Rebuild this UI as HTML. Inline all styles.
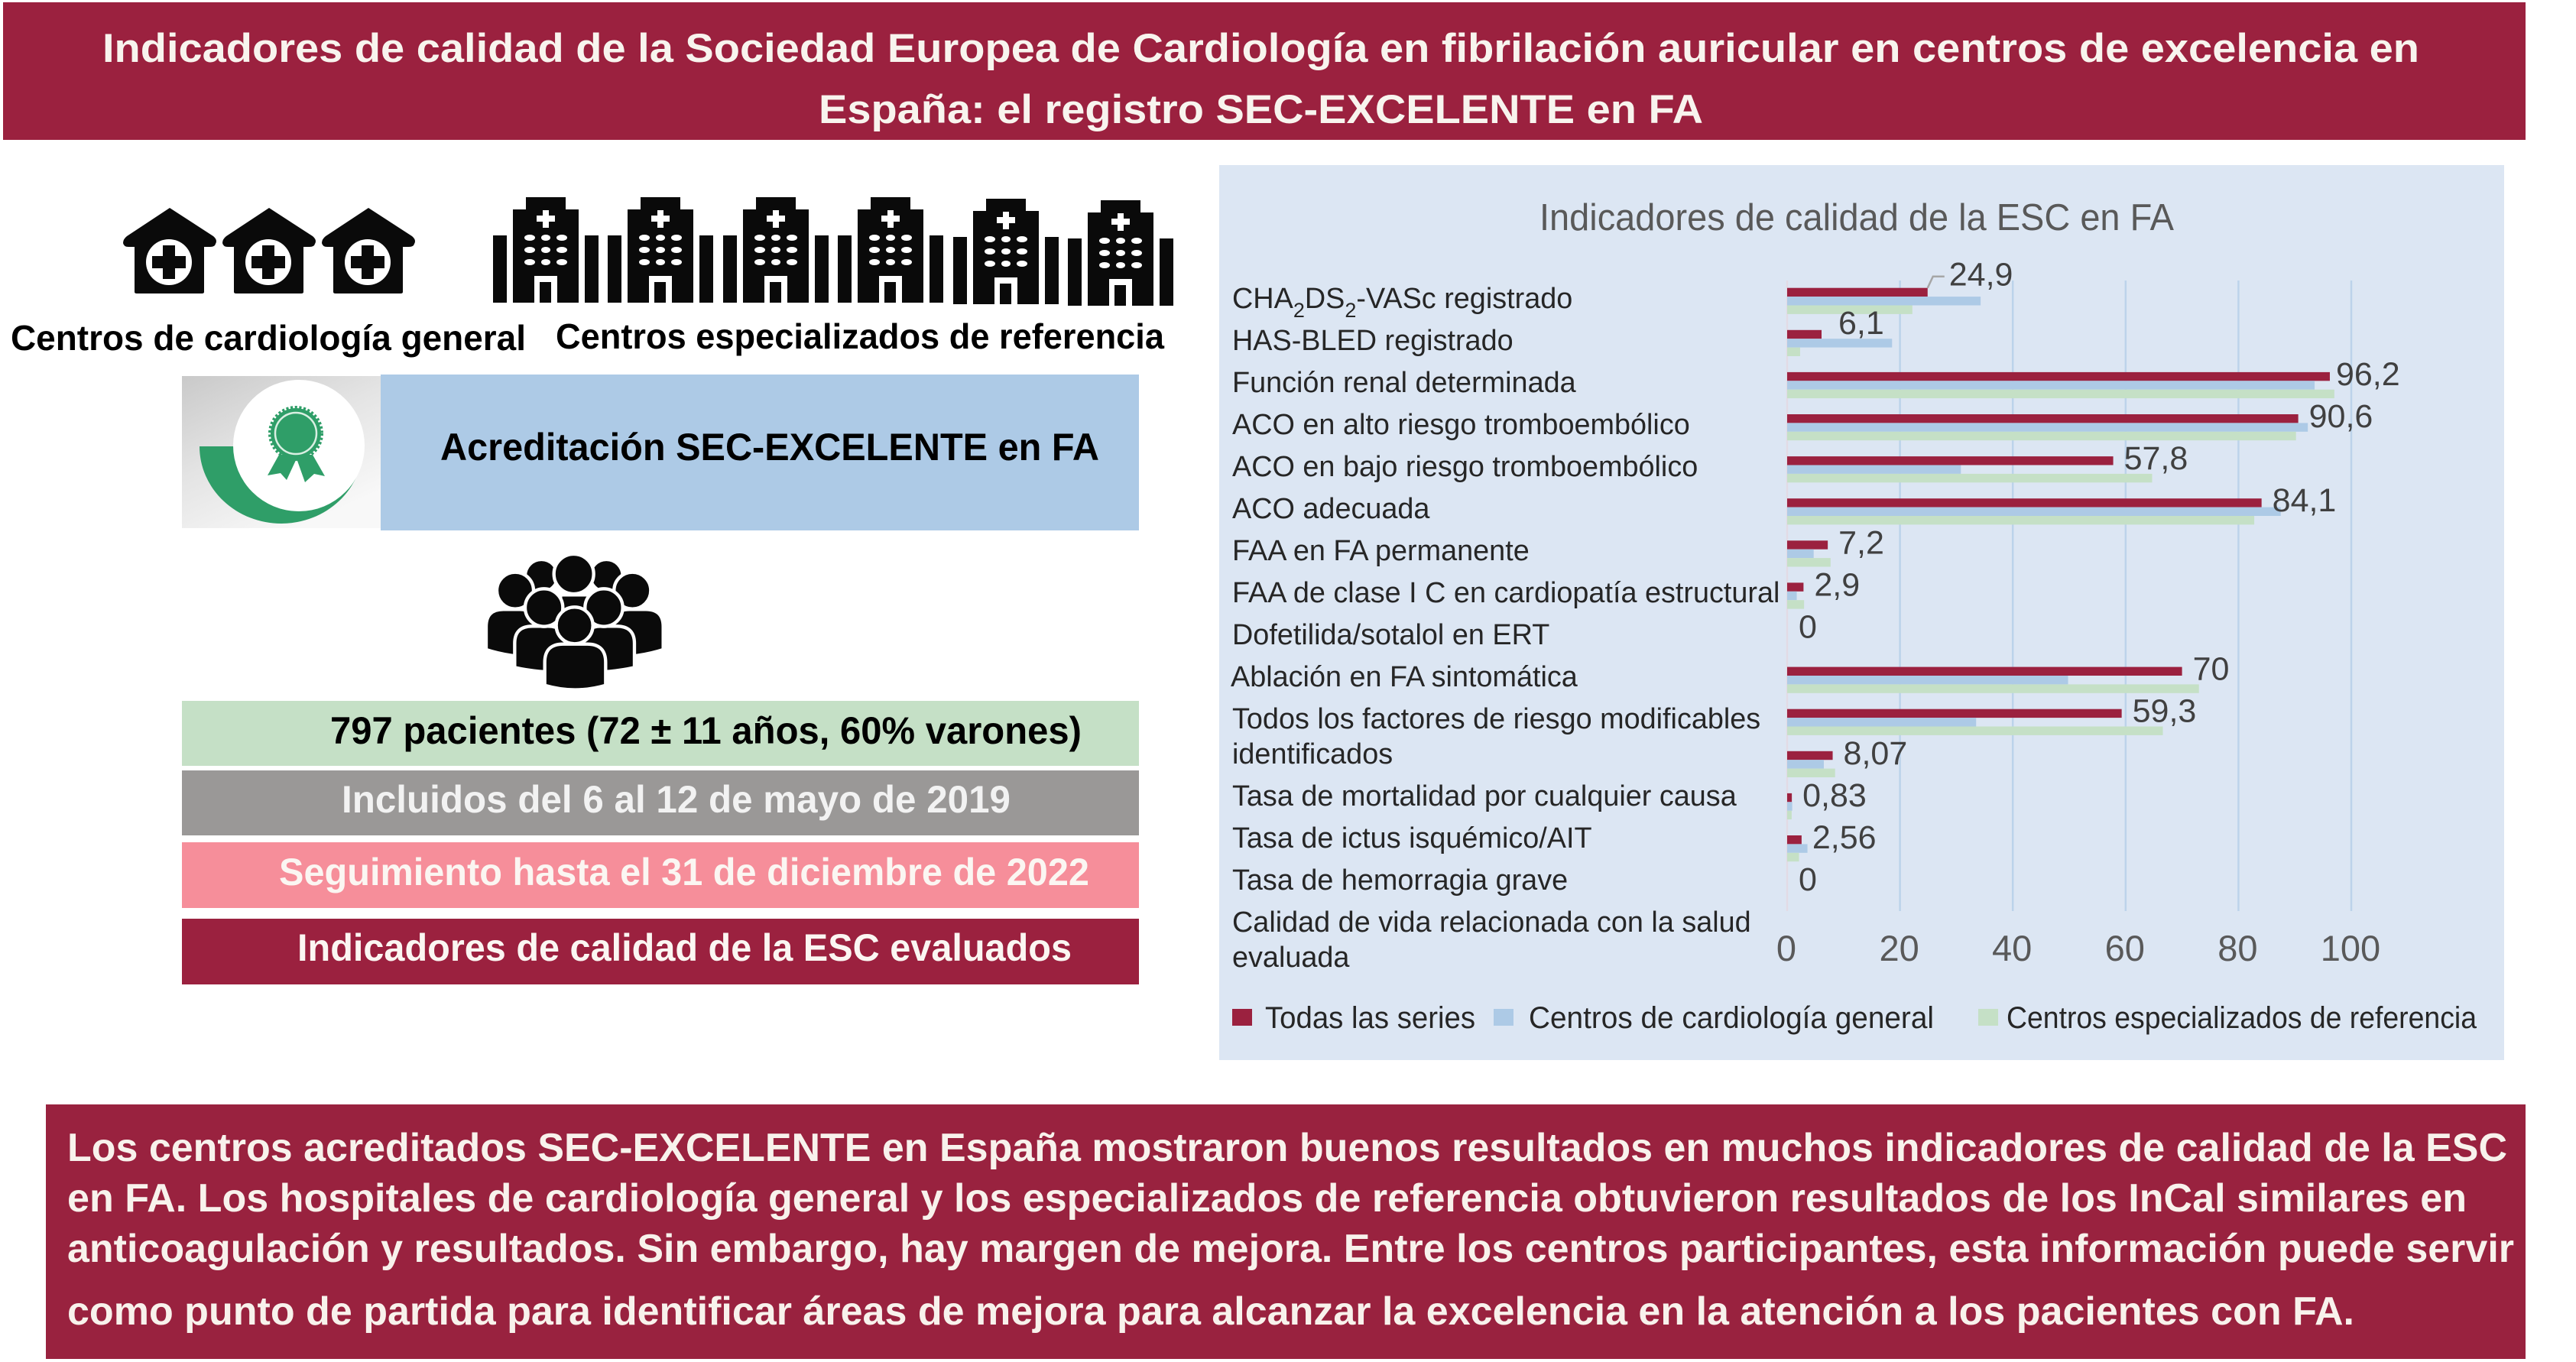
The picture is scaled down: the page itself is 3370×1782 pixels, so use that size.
<!DOCTYPE html>
<html lang="es">
<head>
<meta charset="utf-8">
<title>Indicadores de calidad SEC-EXCELENTE en FA</title>
<style>
html,body{margin:0;padding:0;background:#fff;width:3370px;height:1782px;overflow:hidden}
svg{display:block}
text{font-family:"Liberation Sans",Arial,sans-serif}
.b{font-weight:700}
</style>
</head>
<body>
<svg id="page" xmlns="http://www.w3.org/2000/svg" width="3370" height="1782" viewBox="0 0 3370 1782">
  <defs>
    <linearGradient id="badgeBg" x1="0" x2="0.6" y1="0" y2="1"><stop offset="0" stop-color="#c9c9c9"/><stop offset="0.5" stop-color="#e4e4e4"/><stop offset="1" stop-color="#f8f8f8"/></linearGradient>
    <g id="house">
      <path d="M61 0 L118 37 Q124 42 121 47 Q120 51 114 51 H106 V110 Q106 112 103 112 H18 Q15 112 15 110 V51 H7 Q1 51 0 46 Q0 41 5 37 Z" fill="#0a0a0a"/>
      <circle cx="60" cy="71" r="30" fill="#fff"/>
      <path d="M52 49 H68 V63 H82 V79 H68 V93 H52 V79 H38 V63 H52 Z" fill="#0a0a0a"/>
    </g>
    <g id="hospital">
      <rect x="0" y="50" width="18" height="88" fill="#0a0a0a"/>
      <rect x="120" y="50" width="18" height="88" fill="#0a0a0a"/>
      <rect x="26" y="16" width="86" height="122" fill="#0a0a0a"/>
      <rect x="43" y="0" width="52" height="18" fill="#0a0a0a"/>
      <path d="M65 17 H73 V24 H81 V32 H73 V40 H65 V32 H57 V24 H65 Z" fill="#fff"/>
      <g fill="#fff">
        <ellipse cx="48" cy="53" rx="7" ry="4"/><ellipse cx="69" cy="53" rx="6" ry="4"/><ellipse cx="90" cy="53" rx="7" ry="4"/>
        <ellipse cx="48" cy="69" rx="7" ry="4"/><ellipse cx="69" cy="69" rx="6" ry="4"/><ellipse cx="90" cy="69" rx="7" ry="4"/>
        <ellipse cx="48" cy="85" rx="7" ry="4"/><ellipse cx="69" cy="85" rx="6" ry="4"/><ellipse cx="90" cy="85" rx="7" ry="4"/>
        <path d="M54 138 V103 H84 V138 H76 V111 H61 V138 Z"/>
      </g>
    </g>
  </defs>

  <rect x="4" y="3" width="3300" height="180" fill="#9b213f"/>
  <text class="b" x="134" y="81" font-size="53" fill="#f8f4ee" textLength="3031" lengthAdjust="spacingAndGlyphs">Indicadores de calidad de la Sociedad Europea de Cardiología en fibrilación auricular en centros de excelencia en</text>
  <text class="b" x="1071" y="161" font-size="53" fill="#f8f4ee" textLength="1157" lengthAdjust="spacingAndGlyphs">España: el registro SEC-EXCELENTE en FA</text>

  <g>
    <use href="#house" x="161" y="272"/><use href="#house" x="291" y="272"/><use href="#house" x="421" y="272"/>
  </g>
  <g>
    <use href="#hospital" x="645" y="258"/><use href="#hospital" x="795" y="258"/><use href="#hospital" x="946" y="258"/>
    <use href="#hospital" x="1096" y="258"/><use href="#hospital" x="1247" y="260"/><use href="#hospital" x="1397" y="262"/>
  </g>
  <text class="b" x="14" y="458" font-size="46" fill="#000" textLength="674" lengthAdjust="spacingAndGlyphs">Centros de cardiología general</text>
  <text class="b" x="727" y="456" font-size="46" fill="#000" textLength="796" lengthAdjust="spacingAndGlyphs">Centros especializados de referencia</text>

  <g>
    <rect x="238" y="492" width="260" height="199" fill="url(#badgeBg)"/>
    <path d="M261 584 A107 101 0 0 0 475 584 Z" fill="#2f9e68"/>
    <circle cx="391" cy="583" r="86" fill="#fff"/>
    <path d="M365 595 L350 622 L367 619 L375 628 L388 600 L399 631 L411 620 L425 623 L409 595 Z" fill="#2f9e68"/>
    <circle cx="387" cy="567" r="33" fill="#2f9e68" stroke="#2f9e68" stroke-width="6" stroke-dasharray="3 2.5"/>
    <circle cx="387" cy="567" r="27" fill="#2f9e68" stroke="#d9efe2" stroke-width="2.5"/>
  </g>
  <rect x="498" y="490" width="992" height="204" fill="#adcae6"/>
  <text class="b" x="576" y="602" font-size="50" fill="#000" textLength="862" lengthAdjust="spacingAndGlyphs">Acreditación SEC-EXCELENTE en FA</text>

  <g transform="translate(600 720) scale(0.3333)" fill="#0a0a0a" stroke="#fff" stroke-width="13">
    <circle cx="325" cy="100" r="64"/><circle cx="580" cy="100" r="64"/>
    <path d="M400 175 H510 V260 H400 Z"/>
    <circle cx="452" cy="93" r="78"/>
    <path d="M108 390 V300 Q108 232 175 232 H240 Q310 232 310 300 V420 Q200 420 108 390 Z"/>
    <path d="M803 390 V300 Q803 232 735 232 H670 Q600 232 600 300 V420 Q710 420 803 390 Z"/>
    <circle cx="222" cy="158" r="72"/><circle cx="682" cy="158" r="72"/>
    <path d="M220 460 V365 Q220 298 290 298 H350 Q420 298 420 365 V480 Q310 480 220 460 Z"/>
    <path d="M690 460 V365 Q690 298 620 298 H560 Q490 298 490 365 V480 Q600 480 690 460 Z"/>
    <circle cx="335" cy="225" r="74"/><circle cx="570" cy="225" r="74"/>
    <path d="M338 530 V440 Q338 368 410 368 H505 Q577 368 577 440 V530 Q457 565 338 530 Z"/>
    <circle cx="455" cy="295" r="72"/>
  </g>

  <rect x="238" y="917" width="1252" height="85" fill="#c5e0c6"/>
  <text class="b" x="432" y="973" font-size="50" fill="#000" textLength="983" lengthAdjust="spacingAndGlyphs">797 pacientes (72 ± 11 años, 60% varones)</text>
  <rect x="238" y="1008" width="1252" height="85" fill="#9a9897"/>
  <text class="b" x="447" y="1063" font-size="50" fill="#f2f2f2" textLength="875" lengthAdjust="spacingAndGlyphs">Incluidos del 6 al 12 de mayo de 2019</text>
  <rect x="238" y="1102" width="1252" height="86" fill="#f68e9a"/>
  <text class="b" x="365" y="1158" font-size="50" fill="#fbf6f2" textLength="1060" lengthAdjust="spacingAndGlyphs">Seguimiento hasta el 31 de diciembre de 2022</text>
  <rect x="238" y="1202" width="1252" height="86" fill="#9b213f"/>
  <text class="b" x="389" y="1257" font-size="50" fill="#fbf6f2" textLength="1013" lengthAdjust="spacingAndGlyphs">Indicadores de calidad de la ESC evaluados</text>

  <rect x="1595" y="216" width="1681" height="1171" fill="#dce6f3"/>
  <text x="2014" y="301" font-size="49" fill="#595959" textLength="830" lengthAdjust="spacingAndGlyphs">Indicadores de calidad de la ESC en FA</text>
  <g id="chart"></g>

  <g>
    <rect x="1612" y="1320" width="26" height="22" fill="#9b213f"/>
    <text x="1655" y="1345" font-size="40" fill="#262626" textLength="275" lengthAdjust="spacingAndGlyphs">Todas las series</text>
    <rect x="1954" y="1320" width="26" height="22" fill="#adcae6"/>
    <text x="2000" y="1345" font-size="40" fill="#262626" textLength="530" lengthAdjust="spacingAndGlyphs">Centros de cardiología general</text>
    <rect x="2588" y="1320" width="26" height="22" fill="#c5e0c6"/>
    <text x="2625" y="1345" font-size="40" fill="#262626" textLength="615" lengthAdjust="spacingAndGlyphs">Centros especializados de referencia</text>
  </g>

  <rect x="60" y="1445" width="3244" height="333" fill="#99223f"/>
  <g class="b" font-size="52" fill="#f8f2ec">
    <text class="b" x="88" y="1519" textLength="3192" lengthAdjust="spacingAndGlyphs">Los centros acreditados SEC-EXCELENTE en España mostraron buenos resultados en muchos indicadores de calidad de la ESC</text>
    <text class="b" x="88" y="1585" textLength="3139" lengthAdjust="spacingAndGlyphs">en FA. Los hospitales de cardiología general y los especializados de referencia obtuvieron resultados de los InCal similares en</text>
    <text class="b" x="88" y="1651" textLength="3201" lengthAdjust="spacingAndGlyphs">anticoagulación y resultados. Sin embargo, hay margen de mejora. Entre los centros participantes, esta información puede servir</text>
    <text class="b" x="88" y="1733" textLength="2992" lengthAdjust="spacingAndGlyphs">como punto de partida para identificar áreas de mejora para alcanzar la excelencia en la atención a los pacientes con FA.</text>
  </g>
</svg>

<script>
const categories = [
  ["CHA2DS2-VASc registrado"],
  ["HAS-BLED registrado"],
  ["Función renal determinada"],
  ["ACO en alto riesgo tromboembólico"],
  ["ACO en bajo riesgo tromboembólico"],
  ["ACO adecuada"],
  ["FAA en FA permanente"],
  ["FAA de clase I C en cardiopatía estructural"],
  ["Dofetilida/sotalol en ERT"],
  ["Ablación en FA sintomática"],
  ["Todos los factores de riesgo modificables", "identificados"],
  ["Tasa de mortalidad por cualquier causa"],
  ["Tasa de ictus isquémico/AIT"],
  ["Tasa de hemorragia grave"],
  ["Calidad de vida relacionada con la salud", "evaluada"]
];
const seriesAll = [24.9, 6.1, 96.2, 90.6, 57.8, 84.1, 7.2, 2.9, 0, 70, 59.3, 8.07, 0.83, 2.56, 0];
const seriesGeneral = [34.3, 18.6, 93.5, 92.3, 30.8, 87.5, 4.7, 1.7, 0, 49.8, 33.5, 6.5, 0.9, 3.6, 0];
const seriesReference = [22.2, 2.3, 97, 90.2, 64.7, 82.8, 7.7, 3, 0, 73, 66.6, 8.5, 0.8, 2.1, 0];
const xTicks = [0, 20, 40, 60, 80, 100];

const SVGNS = "http://www.w3.org/2000/svg";
const chart = document.getElementById("chart");
const X0 = 2338, X_PER_UNIT = 7.38, ROW0 = 376.7, ROW_STEP = 55.1, BAR_H = 11.4;
const xScale = v => X0 + v * X_PER_UNIT;
const rowTop = i => ROW0 + i * ROW_STEP;
const fmt = v => String(v).replace(".", ",");

function svgEl(tag, attrs) {
  const e = document.createElementNS(SVGNS, tag);
  Object.keys(attrs).forEach(k => e.setAttribute(k, attrs[k]));
  return e;
}

xTicks.forEach(t => {
  const line = svgEl("line", {x1: xScale(t), x2: xScale(t), y1: 367, y2: 1192, stroke: t === 0 ? "#e2dbe5" : "#bcd3ea", "stroke-width": 2.5});
  
  
  chart.appendChild(line);
  const label = svgEl("text", {x: xScale(t) - 1, y: 1257, "font-size": 47, fill: "#595959", "text-anchor": "middle"});
  label.textContent = t;
  
  
  chart.appendChild(label);
});

const barSeries = [
  {values: seriesAll, color: "#9b213f", name: "bar-all"},
  {values: seriesGeneral, color: "#adcae6", name: "bar-general"},
  {values: seriesReference, color: "#c5e0c6", name: "bar-reference"}
];
barSeries.forEach((s, si) => {
  s.values.forEach((v, i) => {
    const r = svgEl("rect", {x: xScale(0), y: rowTop(i) + si * BAR_H, width: Math.max(0, xScale(v) - xScale(0)), height: BAR_H, fill: s.color});
    
    
    chart.appendChild(r);
  });
});

seriesAll.forEach((v, i) => {
  let lx = xScale(v) + (i === 1 ? 22 : 14);
  let ly = rowTop(i) + 17;
  if (i === 2) lx -= 6;
  if (v === 0) lx = xScale(0) + 15;
  if (i === 0) {
    lx = xScale(v) + 28;
    ly = rowTop(i) - 3;
    const leader = svgEl("polyline", {points: `${xScale(v)},${rowTop(i)} ${xScale(v) + 7},${rowTop(i) - 15} ${xScale(v) + 22},${rowTop(i) - 15}`, fill: "none", stroke: "#a6a6a6", "stroke-width": 2.5});
    
    
    chart.appendChild(leader);
  }
  if (i === 1) ly -= 12;
  const t = svgEl("text", {x: lx, y: ly, "font-size": 43, fill: "#404040"});
  t.textContent = fmt(v);
  
  
  chart.appendChild(t);
});

let labelY = 403;
categories.forEach((lines, i) => {
  lines.forEach((line, li) => {
    const t = svgEl("text", {x: i === 9 ? 1610 : 1612, y: labelY, "font-size": 37.8, fill: "#262626"});
    if (line.indexOf("CHA2DS2") === 0) {
      [["CHA", 0], ["2", 1], ["DS", 0], ["2", 1], ["-VASc registrado", 0]].forEach(([txt, sub], idx) => {
        const span = svgEl("tspan", {});
        span.textContent = txt;
        if (sub) { span.setAttribute("font-size", "27"); span.setAttribute("dy", "12"); }
        else if (idx > 0) { span.setAttribute("dy", "-12"); }
        t.appendChild(span);
      });
    } else {
      t.textContent = line;
    }
    
    
    chart.appendChild(t);
    labelY += li < lines.length - 1 ? 46 : 55;
  });
});
</script>
</body>
</html>
